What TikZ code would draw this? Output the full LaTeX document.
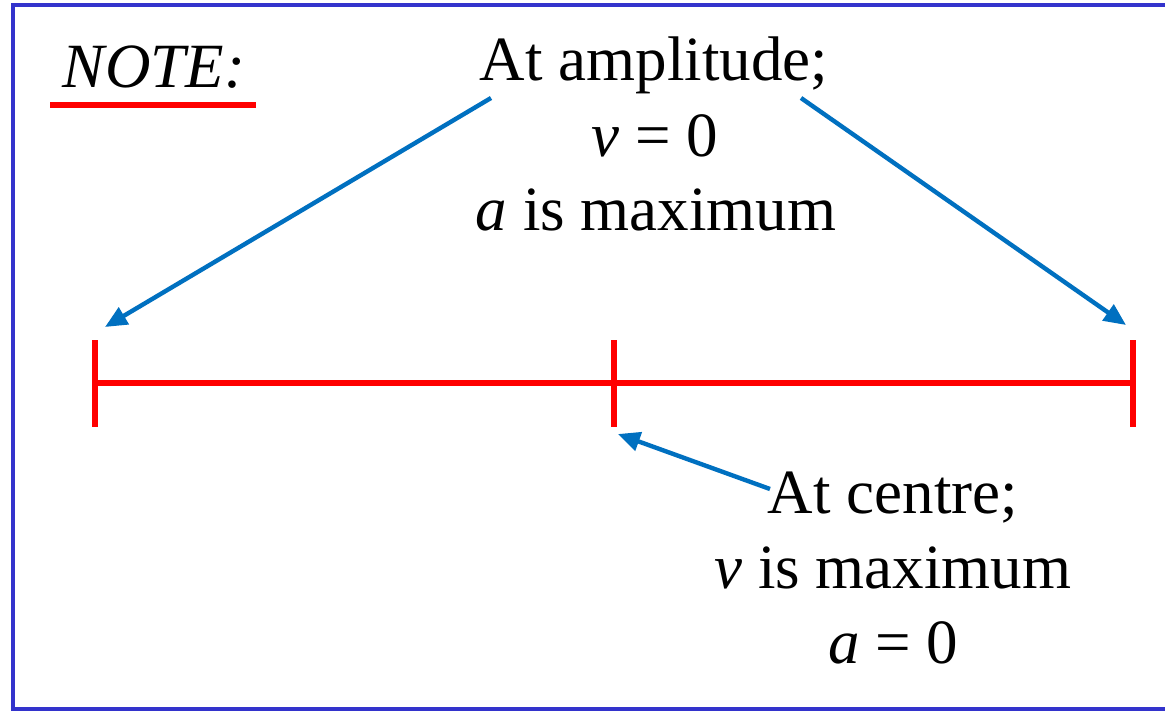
\documentclass[tikz,border=0pt]{standalone}
\usepackage{fontspec}
\setmainfont{Liberation Serif}
\usetikzlibrary{arrows.meta}
\definecolor{framebl}{RGB}{51,51,204}
\definecolor{arrbl}{RGB}{0,112,192}
\definecolor{redl}{RGB}{255,0,0}
\begin{document}
\begin{tikzpicture}[x=0.5pt,y=-0.5pt,
  txt/.style={inner sep=0pt,anchor=base,font=\fontsize{31.5}{37}\selectfont},
  redline/.style={draw=redl,line width=3.4pt},
  pointer/.style={draw=arrbl,line width=2.2pt,-{Triangle[length=11pt,width=9.5pt]}}]
\useasboundingbox (0,0) rectangle (1165,711);
\fill[white] (0,0) rectangle (1165,711);
% frame (right side lies beyond the picture)
\draw[framebl,line width=2.4pt] (1180,5) -- (13,5) -- (13,709) -- (1180,709);
% NOTE
\node[txt] (note) at (154,88) {\textit{NOTE:}};
\draw[redline,line width=2.6pt] (50,105) -- (256,105);
% top text
\node[txt] (t1) at (654,81) {At amplitude;};
\node[txt] (t2) at (655,157) {\textit{v} = 0};
\node[txt] (t3) at (656,230) {\textit{a} is maximum};
% bottom text
\node[txt] (b1) at (893,513) {At centre;};
\node[txt] (b2) at (893,588) {\textit{v} is maximum};
\node[txt] (b3) at (893,663) {\textit{a} = 0};
% red line
\coordinate (L) at (95,383);
\coordinate (M) at (614,383);
\coordinate (R) at (1133,383);
\draw[redline] (L) -- (R);
\draw[redline] ([yshift=21.5pt]L) -- ([yshift=-22pt]L);
\draw[redline] ([yshift=21.5pt]M) -- ([yshift=-22pt]M);
\draw[redline] ([yshift=21.5pt]R) -- ([yshift=-22pt]R);
% arrow end points
\coordinate (s1) at (491,98);
\coordinate (e1) at (105,327);
\coordinate (s2) at (801,98);
\coordinate (e2) at (1126,325);
\coordinate (s3) at (770,489);
\coordinate (e3) at (618,434);
\draw[pointer] (s1) -- (e1);
\draw[pointer] (s2) -- (e2);
\draw[pointer] (s3) -- (e3);
\end{tikzpicture}
\end{document}
